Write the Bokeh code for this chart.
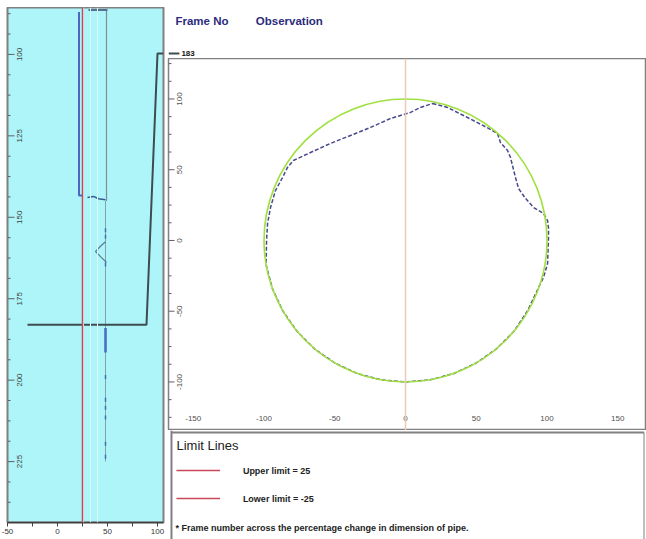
import numpy as np
from bokeh.plotting import figure
from bokeh.models import Range1d, FixedTicker, Span
from bokeh.layouts import row, column
from bokeh.embed import file_html
from bokeh.resources import INLINE
from bokeh.core.properties import value

FONT = "Liberation Sans"

# ---------------- data: left panel (frame history) ----------------
frame_ticks = [100, 125, 150, 175, 200, 225]
frame_tick_labels = ["100", "125", "150", "175", "200", "225"]
pct_ticks = [-50, 0, 50, 100]
pct_minor_ticks = [-25, 25, 75]
pct_tick_labels = {-50: "-50", 0: "0", 50: "50", 100: "100"}
upper_limit = 25
lower_limit = -25
current_frame = 183

# observation traces (percentage change vs frame number)
trace_blue_x = [21.5, 21.5, 25]
trace_blue_y = [87.0, 143.3, 143.3]
trace_gray_x = [49, 49]
trace_gray_y = [86.5, 145.0]
trace_top_x = [31, 50]
trace_top_y = [86.4, 86.4]
trace_kink_x = [30, 36, 41, 48]
trace_kink_y = [143.9, 143.6, 144.3, 144.6]
trace_v_x = [48, 44, 38, 44, 49]
trace_v_y = [157.5, 158.6, 160.5, 162.4, 163.8]
trace_thick_x = [48, 48]
trace_thick_y = [184.0, 191.5]
trace_faint_x = [48, 48]
trace_faint_y = [145.0, 225.0]
trace_dots_x = [48, 48, 48, 48, 48, 48, 48, 48, 48]
trace_dots_y = [154.0, 156.0, 164.5, 199.0, 206.0, 208.5, 211.5, 219.5, 223.5]
grid_light_x = [26, 33, 40]
connector_x = [-30, 89, 100, 106]
connector_y = [current_frame, current_frame, 99.7, 99.7]

# ---------------- data: main panel (pipe cross-section) ----------------
ring_ticks = [100, 50, 0, -50, -100]
ring_tick_labels = ["100", "50", "0", "-50", "-100"]
x_ticks = [-150, -100, -50, 0, 50, 100, 150]
x_tick_labels = ["-150", "-100", "-50", "0", "50", "100", "150"]
nominal_diameter = 200

profile_x = [19.1, 29.7, 43.8, 58.7, 65.0, 67.1, 72.1, 74.2, 77.7, 79.9, 84.8, 90.5,
             97.5, 100.4, 101.1, 101.0, 100.4, 97.5, 86.2, 76.6, 64.3, 50.0, 34.2, 17.4,
             0.0, -17.4, -34.2, -50.0, -64.3, -76.6, -86.6, -94.0, -98.5, -98.2, -97.5,
             -95.4, -91.9, -86.9, -83.4, -79.2, -67.1, -53.0, -38.9, -24.7, -10.6, 3.5,
             10.6, 19.1]
profile_y = [96.8, 94.0, 86.9, 79.2, 75.6, 69.3, 63.6, 58.7, 44.5, 36.7, 29.7, 23.3,
             19.1, 14.1, 8.5, 0.0, -16.3, -26.1, -49.8, -64.3, -76.6, -86.6, -94.0, -98.5,
             -100.0, -98.5, -94.0, -86.6, -76.6, -64.3, -50.0, -34.2, -17.4, 0.0, 12.0,
             23.3, 35.3, 44.5, 51.6, 56.5, 62.2, 68.6, 74.2, 79.9, 86.2, 90.5,
             94.0, 96.8]

header_titles = ["Frame No", "Observation"]
legend_title = "Limit Lines"
footnote = "* Frame number across the percentage change in dimension of pipe."

# ---------------- styles ----------------
CYAN = "#adf5f9"
RED = "#c84858"
BLUE = "#4a68c4"
NAVY = "#2c2c7c"
GRAY = "#808080"

W_TOTAL = 646
W_LEFT = 165
W_RIGHT = W_TOTAL - W_LEFT
H_STRIP = 7
H_HEAD, H_MAIN, H_LEG = 51, 372, 109
H_BODY = H_HEAD + H_MAIN + H_LEG


def blank(width, height, **kw):
    f = figure(width=width, height=height, x_range=Range1d(0, width), y_range=Range1d(height, 0),
               x_axis_location=None, y_axis_location=None, output_backend="svg",
               toolbar_location=None, min_border=0, outline_line_color=None, **kw)
    f.grid.visible = False
    return f


# ---------------- top strip ----------------
ps = blank(W_TOTAL, H_STRIP)
ps.segment(x0=[9], y0=[3], x1=[W_TOTAL], y1=[3], line_color="#8c8c8c", line_width=2)

# ---------------- left panel ----------------
y0, y1 = 243.7, 85.6
p1 = figure(width=W_LEFT, height=H_BODY, x_range=Range1d(-50, 106), y_range=Range1d(y0, y1),
            y_axis_location=None, output_backend="svg", toolbar_location=None,
            min_border=0, min_border_left=7, min_border_right=2, min_border_bottom=17,
            background_fill_color=CYAN, outline_line_color=GRAY, outline_line_width=2)
p1.grid.visible = False
ax = p1.xaxis[0]
ax.ticker = FixedTicker(ticks=pct_ticks, minor_ticks=pct_minor_ticks)
ax.major_label_overrides = pct_tick_labels
ax.major_tick_out = 4
ax.major_tick_in = 0
ax.minor_tick_out = 4
ax.minor_tick_in = 0
ax.axis_line_color = "#404040"
ax.axis_line_width = 1.5
ax.major_tick_line_color = "#404040"
ax.minor_tick_line_color = "#404040"
ax.major_label_text_font = FONT
ax.major_label_text_font_size = "8px"
ax.major_label_text_color = "#333333"
ax.major_label_standoff = 2

minor_frame = [v for v in np.arange(87.5, 243.7, 6.25) if v not in frame_ticks]
p1.ray(x=[-50] * len(frame_ticks), y=frame_ticks, length=7, length_units="screen",
       angle=0, line_color="#606060", line_width=1)
p1.ray(x=[-50] * len(minor_frame), y=minor_frame, length=3, length_units="screen",
       angle=0, line_color="#606060", line_width=1)
p1.text(x=[-50] * len(frame_ticks), y=frame_ticks, text=frame_tick_labels, x_offset=12,
        angle=np.pi / 2, text_align="center", text_baseline="middle",
        text_font=value(FONT), text_font_size=value("8px"), text_color="#404040")

for gx in grid_light_x:
    p1.add_layout(Span(location=gx, dimension="height", line_color="#d8fcfe", line_width=1))
p1.add_layout(Span(location=upper_limit, dimension="height", line_color=RED, line_width=1.5))

p1.line(trace_faint_x, trace_faint_y, line_color="#8aa0a8", line_width=1)
p1.line(trace_gray_x, trace_gray_y, line_color="#7a9098", line_width=1.2)
p1.line(trace_blue_x, trace_blue_y, line_color=BLUE, line_width=2)
p1.line(trace_top_x, trace_top_y, line_color="#5a7090", line_width=2)
p1.line(trace_kink_x, trace_kink_y, line_color="#3a5a90", line_width=1.5)
p1.line(trace_v_x, trace_v_y, line_color="#5a7a9a", line_width=1.2)
p1.line(trace_thick_x, trace_thick_y, line_color=BLUE, line_width=2.5)
p1.scatter(trace_dots_x, trace_dots_y, marker="dash", angle=np.pi / 2, size=4,
           line_color="#4a6aa8", line_width=1.5)
p1.line(connector_x, connector_y, line_color="#3c4c50", line_width=2)

# ---------------- header ----------------
p0 = blank(W_RIGHT, H_HEAD)
p0.text(x=[7, 88], y=[13, 13], text=header_titles, text_align="left", text_baseline="middle",
        text_font=value(FONT), text_font_size=value("11.5px"), text_font_style="bold",
        text_color=NAVY)
p0.segment(x0=[0], y0=[46], x1=[11], y1=[46], line_color="#3c4c50", line_width=2)
p0.text(x=[13], y=[46], text=[str(current_frame)], text_align="left", text_baseline="middle",
        text_font=value(FONT), text_font_size=value("8px"), text_font_style="bold",
        text_color="#111111")

# ---------------- main cross-section ----------------
xr = Range1d(-167.5, 169.6)
yr = Range1d(-134.3, 128.6)
p2 = figure(width=W_RIGHT, height=H_MAIN, x_range=xr, y_range=yr,
            x_axis_location=None, y_axis_location=None, output_backend="svg",
            toolbar_location=None, min_border=0, min_border_left=3, min_border_right=1,
            outline_line_color=GRAY, outline_line_width=1.5)
p2.grid.visible = False
p2.add_layout(Span(location=0, dimension="height", line_color="#eccab8", line_width=1.5))
p2.line(profile_x, profile_y, line_color="#48488c", line_width=1.5, line_dash="4 2")
p2.ellipse(x=[0], y=[0], width=[nominal_diameter], height=[nominal_diameter],
           fill_color=None, line_color="#a0e040", line_width=1.6)

minor_ring = [v for v in np.arange(-125, 126, 12.5) if v not in ring_ticks]
p2.ray(x=[xr.start] * len(ring_ticks), y=ring_ticks, length=6, length_units="screen",
       angle=0, line_color="#606060", line_width=1)
p2.ray(x=[xr.start] * len(minor_ring), y=minor_ring, length=3, length_units="screen",
       angle=0, line_color="#606060", line_width=1)
p2.text(x=[xr.start] * len(ring_ticks), y=ring_ticks, text=ring_tick_labels, x_offset=11,
        angle=np.pi / 2, text_align="center", text_baseline="middle",
        text_font=value(FONT), text_font_size=value("8px"), text_color="#505050")
p2.text(x=x_ticks, y=[yr.start] * len(x_ticks), text=x_tick_labels, y_offset=-12,
        text_align="center", text_baseline="middle",
        text_font=value(FONT), text_font_size=value("8px"), text_color="#505050")

# ---------------- legend box ----------------
p3 = blank(W_RIGHT, H_LEG)
p3.segment(x0=[3, 3, W_RIGHT - 1.5], y0=[0, 2, 2], x1=[3, W_RIGHT - 1.5, W_RIGHT - 1.5],
           y1=[H_LEG, 2, H_LEG], line_color=GRAY, line_width=[2, 2, 1])
p3.text(x=[8], y=[15], text=[legend_title], text_align="left", text_baseline="middle",
        text_font=value(FONT), text_font_size=value("13px"), text_color="#222222")
p3.segment(x0=[8, 8], y0=[40, 68], x1=[52, 52], y1=[40, 68], line_color=RED, line_width=1.5)
p3.text(x=[75, 75], y=[40, 68],
        text=[f"Upper limit = {upper_limit}", f"Lower limit = {lower_limit}"],
        text_align="left", text_baseline="middle", text_font=value(FONT),
        text_font_size=value("9px"), text_font_style="bold", text_color="#222222")
p3.text(x=[7], y=[97], text=[footnote], text_align="left", text_baseline="middle",
        text_font=value(FONT), text_font_size=value("9px"), text_font_style="bold",
        text_color="#222222")

layout = column(ps, row(p1, column(p0, p2, p3)))
open("out.html", "w").write(file_html(layout, INLINE))
